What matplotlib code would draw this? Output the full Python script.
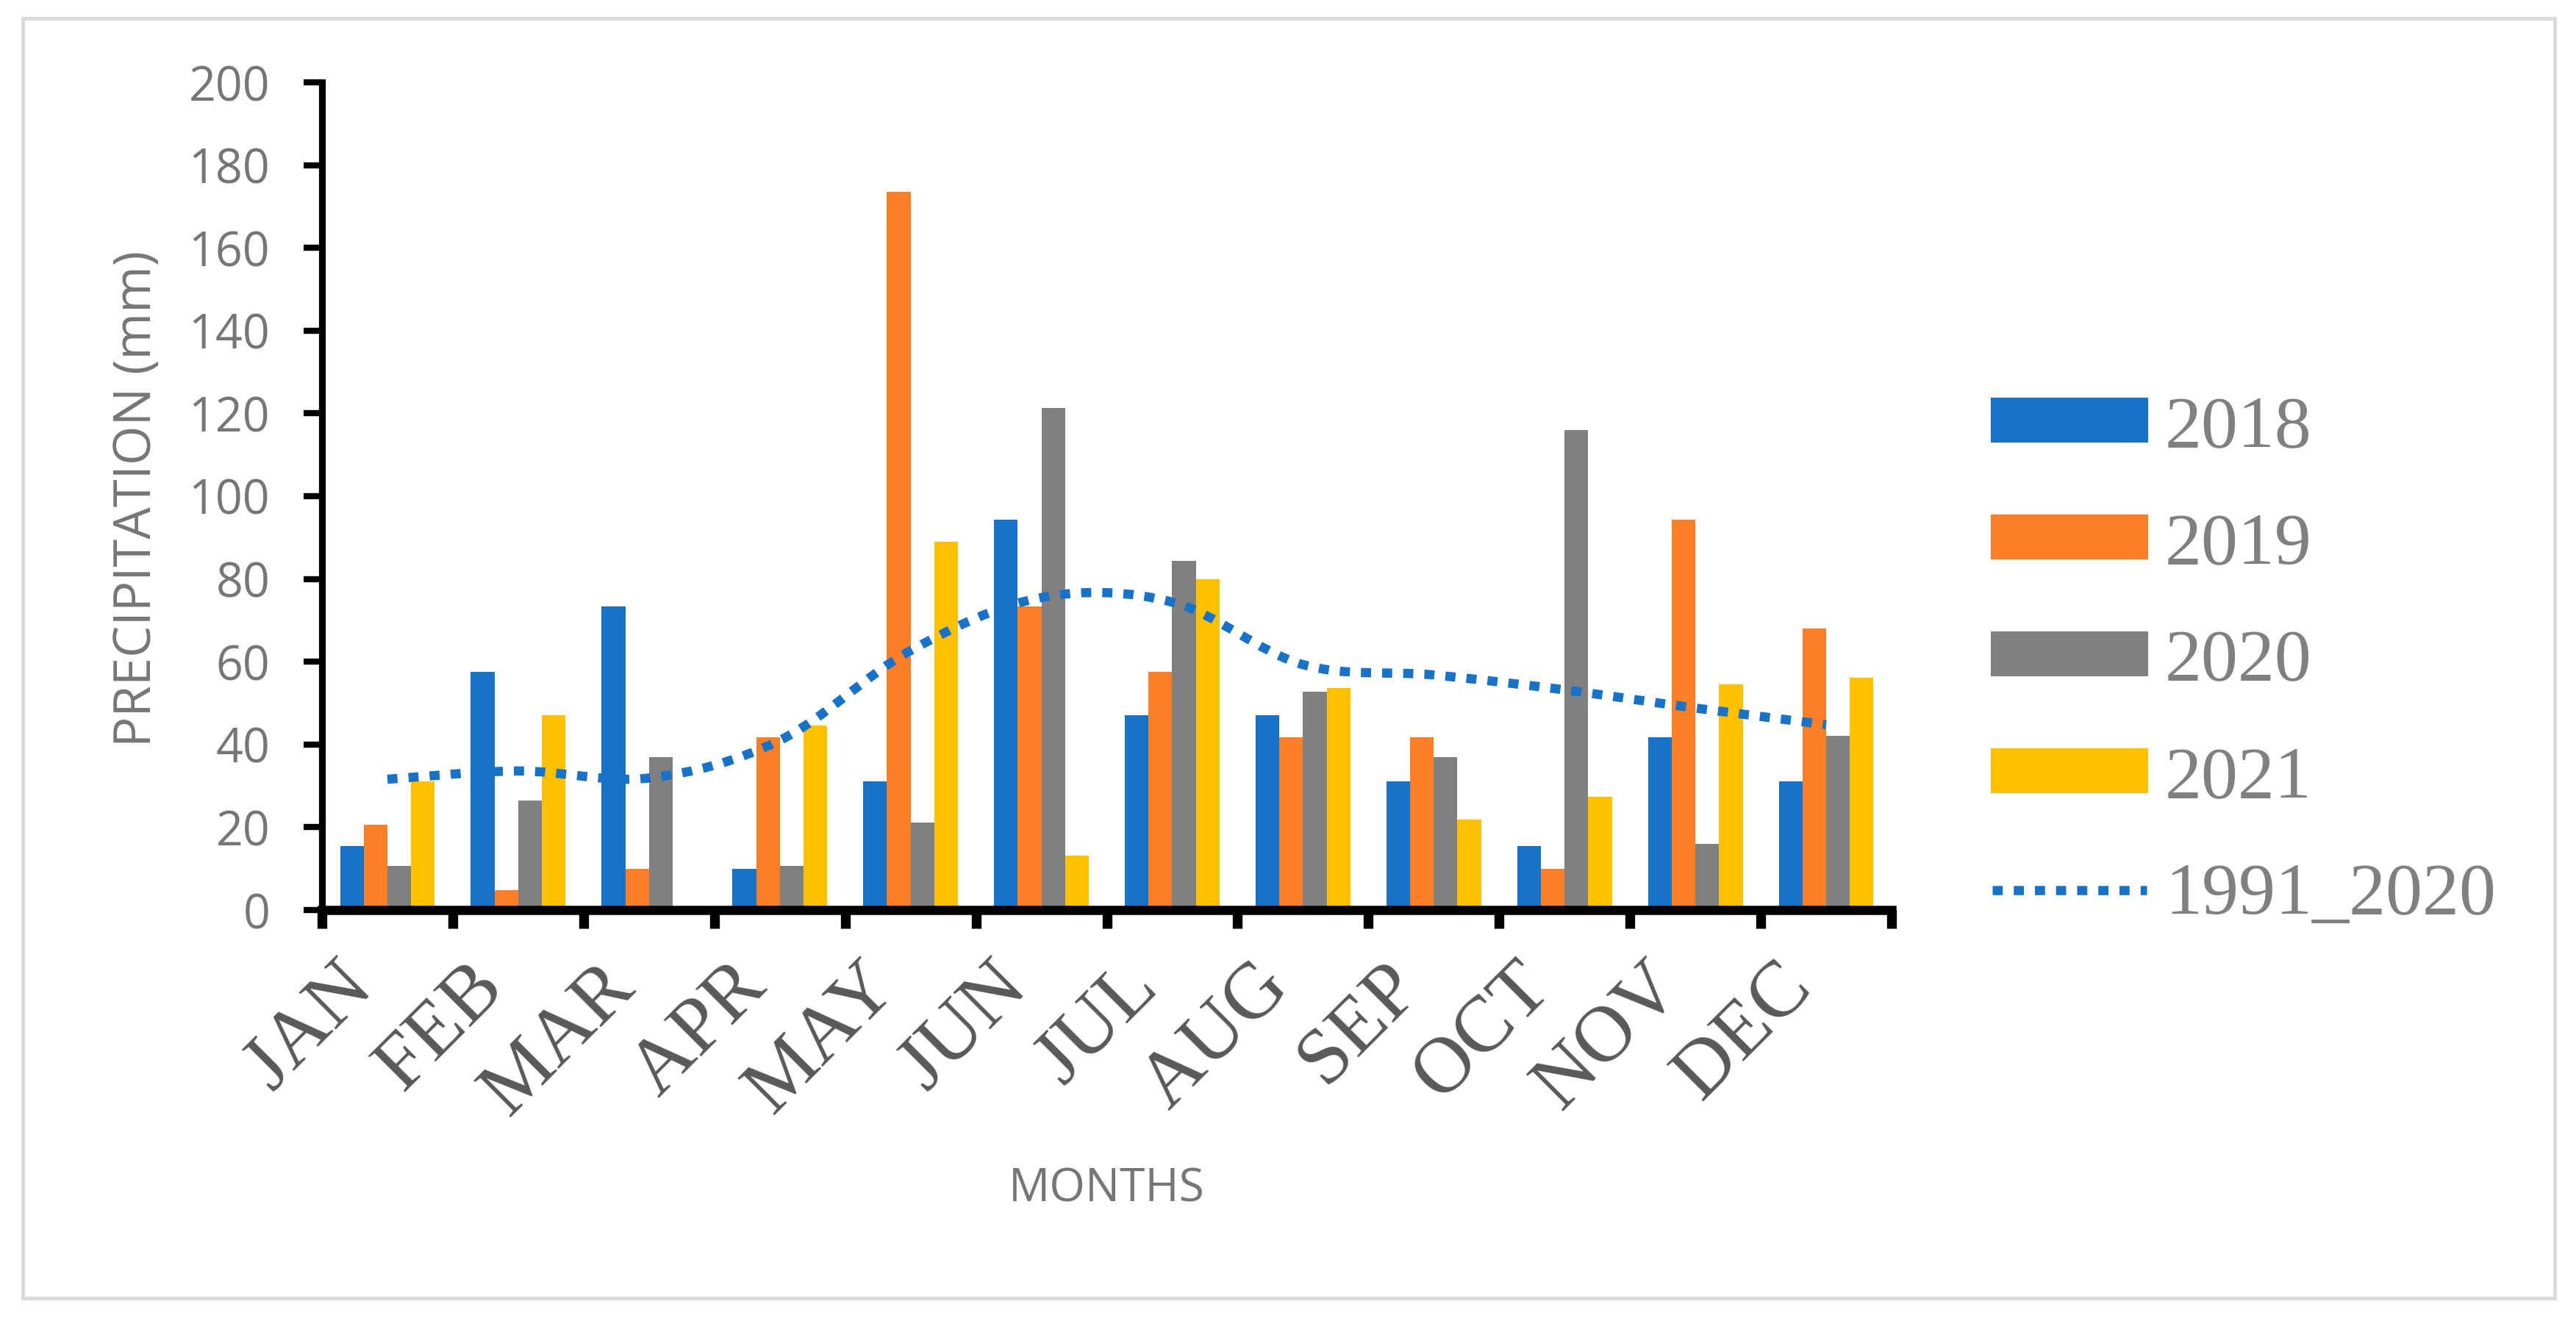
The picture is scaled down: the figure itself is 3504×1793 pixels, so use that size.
import numpy as np
import matplotlib
matplotlib.use("Agg")
import matplotlib.pyplot as plt
import matplotlib.transforms as mtransforms
from matplotlib.path import Path
from matplotlib.patches import PathPatch, Rectangle
from matplotlib.lines import Line2D

# monthly precipitation (mm)
months = ["JAN", "FEB", "MAR", "APR", "MAY", "JUN",
          "JUL", "AUG", "SEP", "OCT", "NOV", "DEC"]
p2018 = [15.4, 57.6, 73.4, 10.0, 31.1, 94.4, 47.0, 47.0, 31.1, 15.4, 41.7, 31.1]
p2019 = [20.6, 4.8, 10.0, 41.7, 173.6, 73.4, 57.6, 41.7, 41.7, 10.0, 94.4, 68.1]
p2020 = [10.6, 26.4, 36.9, 10.6, 21.1, 121.3, 84.3, 52.7, 36.9, 116.0, 16.0, 42.1]
p2021 = [31.1, 47.0, 0.0, 44.6, 89.0, 13.2, 79.9, 53.7, 21.9, 27.3, 54.5, 56.2]
normal = [31.6, 33.6, 31.9, 41.0, 62.7, 75.5, 74.4, 59.3, 56.8, 53.2, 48.8, 44.8]

series = [("2018", p2018, "#1873C8"),
          ("2019", p2019, "#FE7F27"),
          ("2020", p2020, "#808080"),
          ("2021", p2021, "#FFC000")]
line_color = "#1873C8"

W, H = 3504, 1793
fig = plt.figure(figsize=(W / 300, H / 300), dpi=300)
ax = fig.add_axes([438 / W, (H - 1238) / H, (2573 - 438) / W, (1238 - 112) / H])

x = np.arange(len(months))
bw = 0.181
for i, (name, vals, col) in enumerate(series):
    ax.bar(x + (i - 1.5) * bw, vals, bw, color=col, label=name, zorder=2)

# smoothed long-term mean line (bezier through the monthly values)
xs = list(x.astype(float))
ys = list(normal)
verts = [(xs[0], ys[0])]
codes = [Path.MOVETO]
n = len(xs)
for i in range(n - 1):
    x0, y0 = (xs[i - 1], ys[i - 1]) if i > 0 else (xs[i], ys[i])
    x3, y3 = (xs[i + 2], ys[i + 2]) if i + 2 < n else (xs[i + 1], ys[i + 1])
    c1 = (xs[i] + (xs[i + 1] - x0) / 6, ys[i] + (ys[i + 1] - y0) / 6)
    c2 = (xs[i + 1] - (x3 - xs[i]) / 6, ys[i + 1] - (y3 - ys[i]) / 6)
    verts += [c1, c2, (xs[i + 1], ys[i + 1])]
    codes += [Path.CURVE4] * 3
ax.add_patch(PathPatch(Path(verts, codes), fill=False, edgecolor=line_color,
                       lw=3.0, linestyle=(0, (1.1, 1.2)), capstyle="butt", zorder=3))

ax.set_xlim(-0.5, 11.5)
ax.set_ylim(0, 200)
ax.set_yticks(range(0, 201, 20))
for s in ["top", "right"]:
    ax.spines[s].set_visible(False)
ax.spines["left"].set_linewidth(2.2)
ax.spines["bottom"].set_linewidth(3.0)

ax.set_xticks(x)
ax.set_xticklabels(months, rotation=45, ha="right", fontfamily="Liberation Serif",
                   fontsize=26, color="#595959")
shift = mtransforms.ScaledTranslation(9 / 72, 0, fig.dpi_scale_trans)
for lab in ax.get_xticklabels():
    lab.set_transform(lab.get_transform() + shift)
ax.tick_params(axis="x", which="major", length=0, pad=13)
ax.set_xticks(np.arange(-0.5, 12, 1), minor=True)
ax.tick_params(axis="x", which="minor", length=6, width=3.2, direction="out", color="black")
ax.tick_params(axis="y", length=6, width=2.0, pad=11, labelsize=15.5, labelcolor="#767676")
for lab in ax.get_yticklabels():
    lab.set_fontfamily("Open Sans")

fig.text(187 / W, 1 - 678 / H, "PRECIPITATION (mm)", rotation=90, ha="center", va="center",
         fontfamily="Open Sans", fontsize=16.5, color="#767676")
fig.text(1505 / W, 1 - 1618 / H, "MONTHS", ha="center", va="center",
         fontfamily="Open Sans", fontsize=15, color="#767676")

handles = [Rectangle((0, 0), 1, 1, color=c) for _, _, c in series]
handles.append(Line2D([0], [0], color=line_color, lw=3.0, linestyle=(0, (1.1, 1.2)),
                      dash_capstyle="butt"))
labels = [s[0] for s in series] + ["1991_2020"]
fig.legend(handles, labels, loc="upper left", bbox_to_anchor=(2710 / W, 1 - 538 / H),
           frameon=False, prop={"family": "Liberation Serif", "size": 24},
           labelcolor="#808080", handlelength=2.1, handleheight=0.5,
           handletextpad=0.25, labelspacing=0.69, borderpad=0, borderaxespad=0)

fig.patches.append(Rectangle((31 / W, (H - 1766) / H), (3475 - 31) / W, (1766 - 25) / H,
                             fill=False, edgecolor="#d9d9d9", lw=1.2,
                             transform=fig.transFigure))

fig.savefig("out.png", dpi=300, facecolor="white")
